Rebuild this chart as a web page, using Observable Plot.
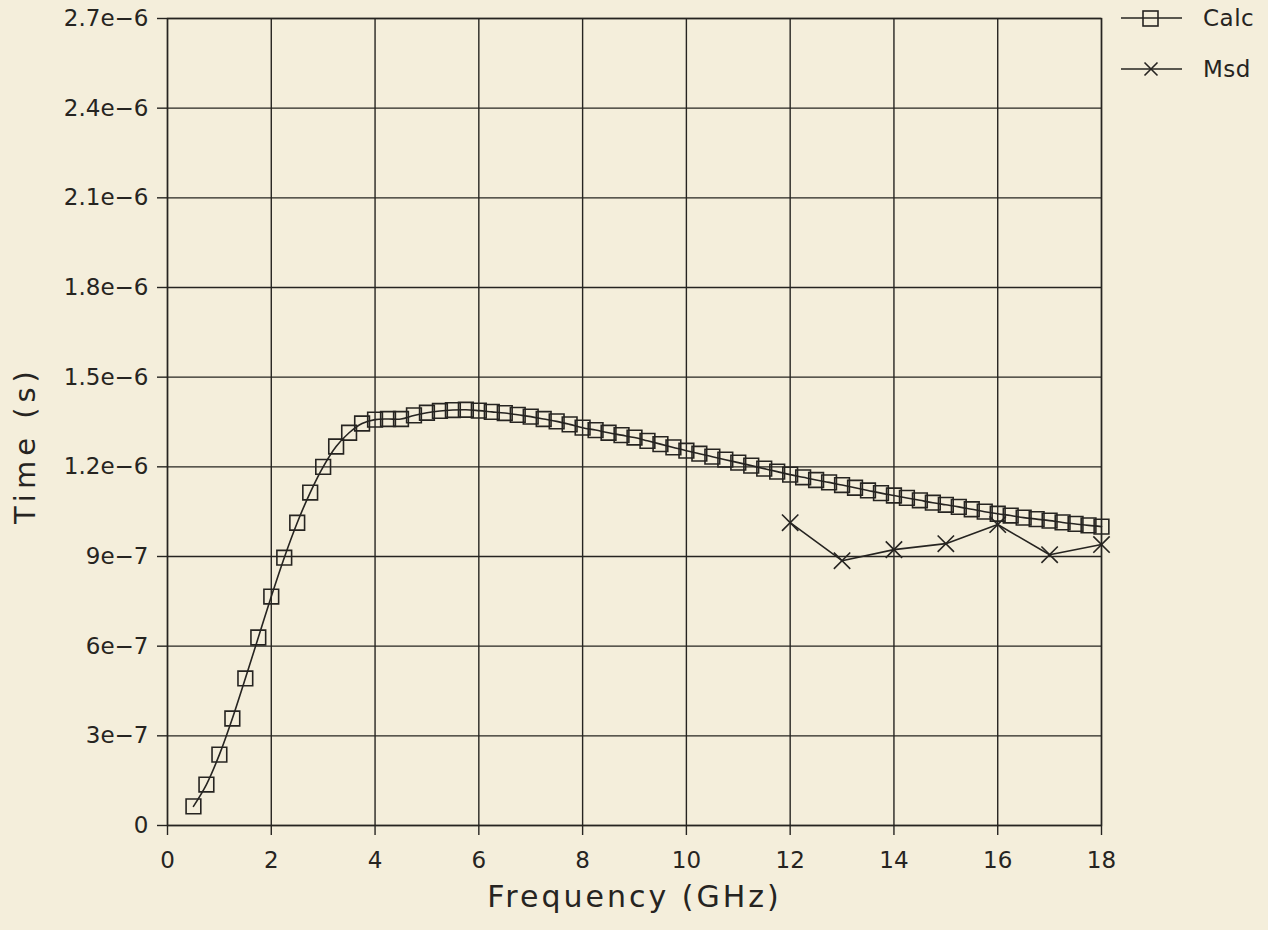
<!DOCTYPE html>
<html>
<head>
<meta charset="utf-8">
<script src="https://cdn.jsdelivr.net/npm/d3@7"></script>
<script src="https://cdn.jsdelivr.net/npm/@observablehq/plot@0.6"></script>
<style>
  html, body { margin: 0; padding: 0; background: #f4eedb; }
  #wrap { position: relative; width: 1268px; height: 930px; overflow: hidden; background: #f4eedb; }
  #legend { position: absolute; left: 1110px; top: 0px; }
</style>
</head>
<body>
<div id="wrap"></div>
<script>
// Calc: frequency (GHz) and time (s)
const calcFreq = [0.5,0.75,1,1.25,1.5,1.75,2,2.25,2.5,2.75,3,3.25,3.5,3.75,4,4.25,4.5,4.75,5,5.25,5.5,5.75,6,6.25,6.5,6.75,7,7.25,7.5,7.75,8,8.25,8.5,8.75,9,9.25,9.5,9.75,10,10.25,10.5,10.75,11,11.25,11.5,11.75,12,12.25,12.5,12.75,13,13.25,13.5,13.75,14,14.25,14.5,14.75,15,15.25,15.5,15.75,16,16.25,16.5,16.75,17,17.25,17.5,17.75,18];
const calcTime = [6.4e-8,1.37e-7,2.37e-7,3.58e-7,4.92e-7,6.29e-7,7.66e-7,8.96e-7,1.013e-6,1.114e-6,1.200e-6,1.268e-6,1.314e-6,1.345e-6,1.358e-6,1.360e-6,1.360e-6,1.372e-6,1.381e-6,1.387e-6,1.390e-6,1.391e-6,1.388e-6,1.384e-6,1.380e-6,1.374e-6,1.368e-6,1.360e-6,1.352e-6,1.342e-6,1.331e-6,1.323e-6,1.314e-6,1.306e-6,1.298e-6,1.287e-6,1.276e-6,1.265e-6,1.254e-6,1.244e-6,1.234e-6,1.224e-6,1.214e-6,1.204e-6,1.194e-6,1.184e-6,1.174e-6,1.165e-6,1.156e-6,1.148e-6,1.139e-6,1.130e-6,1.121e-6,1.112e-6,1.104e-6,1.096e-6,1.088e-6,1.080e-6,1.073e-6,1.066e-6,1.058e-6,1.050e-6,1.043e-6,1.037e-6,1.030e-6,1.025e-6,1.020e-6,1.014e-6,1.009e-6,1.004e-6,1.000e-6];
// Msd: measured
const msdFreq = [12,13,14,15,16,17,18];
const msdTime = [1.013e-6,8.86e-7,9.23e-7,9.43e-7,1.007e-6,9.06e-7,9.40e-7];

const xTicks = [0,2,4,6,8,10,12,14,16,18];
const yTicks = [0,3e-7,6e-7,9e-7,1.2e-6,1.5e-6,1.8e-6,2.1e-6,2.4e-6,2.7e-6];
const yTickLabels = ["0","3e\u22127","6e\u22127","9e\u22127","1.2e\u22126","1.5e\u22126","1.8e\u22126","2.1e\u22126","2.4e\u22126","2.7e\u22126"];
const xLabel = "Frequency (GHz)";
const yLabel = "Time (s)";
const seriesNames = ["Calc","Msd"];

const calc = calcFreq.map((f, i) => ({f, t: calcTime[i]}));
const msd = msdFreq.map((f, i) => ({f, t: msdTime[i]}));

const ink = "#262421";
const font = "'DejaVu Sans', 'Open Sans', sans-serif";

const chart = Plot.plot({
  width: 1268,
  height: 930,
  marginLeft: 167,
  marginRight: 167,
  marginTop: 18,
  marginBottom: 105,
  style: {background: "transparent", fontFamily: font, fontSize: "23px", color: ink, overflow: "visible"},
  x: {domain: [0, 18]},
  y: {domain: [0, 2.7e-6]},
  marks: [
    Plot.gridX(xTicks, {stroke: ink, strokeOpacity: 1, strokeWidth: 1.4}),
    Plot.gridY(yTicks, {stroke: ink, strokeOpacity: 1, strokeWidth: 1.4}),
    Plot.frame({stroke: ink, strokeWidth: 1.4}),
    Plot.axisX(xTicks, {tickSize: 10, tickPadding: 16, label: null, fontSize: 23, strokeWidth: 1.4, stroke: ink, fill: ink}),
    Plot.axisY(yTicks, {tickSize: 10, tickPadding: 9, label: null, fontSize: 23, strokeWidth: 1.4, stroke: ink, fill: ink,
      tickFormat: d => yTickLabels[yTicks.indexOf(d)]}),
    Plot.text([xLabel], {frameAnchor: "bottom", dy: 81, lineAnchor: "bottom", fontSize: 30, fill: ink, fontFamily: font}),
    Plot.text([yLabel], {frameAnchor: "left", rotate: -90, dx: -142, dy: 102, fontSize: 29, fill: ink, fontFamily: font}),
    Plot.line(calc, {x: "f", y: "t", stroke: ink, strokeWidth: 1.6, curve: "catmull-rom"}),
    Plot.dot(calc, {x: "f", y: "t", symbol: "square", r: 8.3, stroke: ink, strokeWidth: 1.6, fill: "none"}),
    Plot.line(msd, {x: "f", y: "t", stroke: ink, strokeWidth: 1.6}),
    Plot.dot(msd, {x: "f", y: "t", symbol: "times", r: 7.5, stroke: ink, strokeWidth: 1.6})
  ]
});
const wrap = document.getElementById("wrap");
wrap.appendChild(chart);
// letter-spacing on the axis titles
chart.querySelectorAll("text").forEach(t => {
  if (t.textContent === xLabel) t.setAttribute("letter-spacing", "3");
  if (t.textContent === yLabel) t.setAttribute("letter-spacing", "5");
});

// Legend (outside the plot frame, top right)
const legend = document.createElement("div");
legend.id = "legend";
legend.innerHTML = `
<svg width="158" height="90" style="overflow:visible;font-family:${font}">
  <g stroke="${ink}" stroke-width="1.6" fill="none">
    <line x1="11" y1="18" x2="72" y2="18"/>
    <rect x="33" y="11" width="15" height="15"/>
    <line x1="11" y1="69" x2="72" y2="69"/>
    <path d="M34.5,62.5 L47.5,75.5 M47.5,62.5 L34.5,75.5"/>
  </g>
  <text x="93" y="18" dy="0.35em" font-size="23" letter-spacing="0.5" fill="${ink}">${seriesNames[0]}</text>
  <text x="93" y="69" dy="0.35em" font-size="23" letter-spacing="0.5" fill="${ink}">${seriesNames[1]}</text>
</svg>`;
wrap.appendChild(legend);
</script>
</body>
</html>
